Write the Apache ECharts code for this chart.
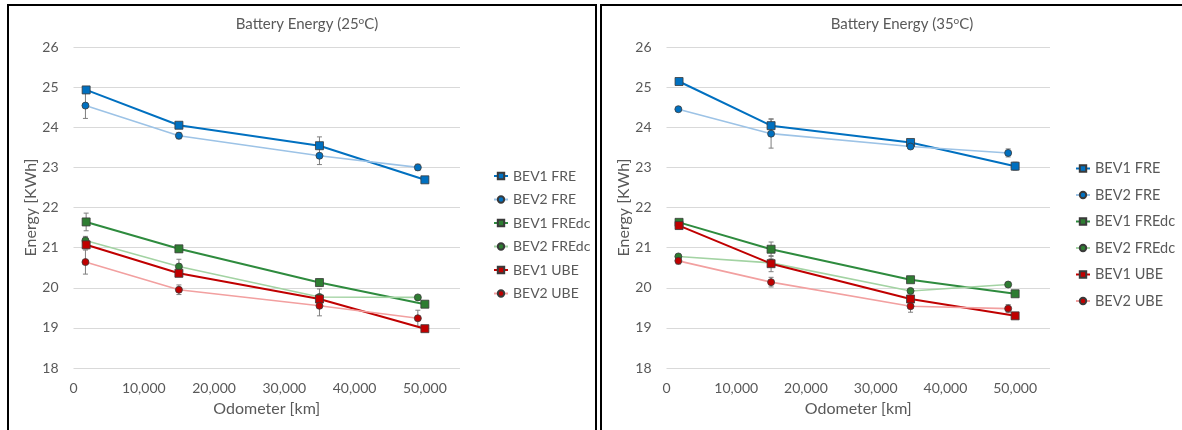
<!DOCTYPE html>
<html>
<head>
<meta charset="utf-8">
<script src="https://cdn.jsdelivr.net/npm/echarts@6/dist/echarts.min.js"></script>
<style>
html, body { margin: 0; padding: 0; background: #fff; }
#chart { width: 1182px; height: 430px; }
</style>
</head>
<body>
<div id="chart"></div>
<script>
// odometer readings [km]
var bev1Km = [1800, 15000, 35000, 50000];
var bev2Km = [1700, 15000, 35000, 49000];

var seriesNames = ['BEV1 FRE', 'BEV2 FRE', 'BEV1 FREdc', 'BEV2 FREdc', 'BEV1 UBE', 'BEV2 UBE'];

// 25 C
var fre1_25 = [24.93, 24.05, 23.54, 22.69];
var fre2_25 = [24.54, 23.79, 23.29, 23.00];
var fredc1_25 = [21.64, 20.97, 20.13, 19.59];
var fredc2_25 = [21.18, 20.53, 19.77, 19.76];
var ube1_25 = [21.07, 20.36, 19.72, 18.98];
var ube2_25 = [20.64, 19.95, 19.55, 19.24];
// error (+/-)
var fre1Err_25 = [0.07, 0.05, 0.22, 0.04];
var fre2Err_25 = [0.32, 0.08, 0.22, 0.08];
var fredc1Err_25 = [0.22, 0.08, 0.08, 0.04];
var fredc2Err_25 = [0.10, 0.18, 0.20, 0.05];
var ube1Err_25 = [0.10, 0.06, 0.10, 0.04];
var ube2Err_25 = [0.30, 0.12, 0.25, 0.20];

// 35 C
var fre1_35 = [25.14, 24.04, 23.62, 23.03];
var fre2_35 = [24.45, 23.84, 23.52, 23.36];
var fredc1_35 = [21.63, 20.96, 20.20, 19.85];
var fredc2_35 = [20.78, 20.62, 19.92, 20.08];
var ube1_35 = [21.55, 20.60, 19.72, 19.30];
var ube2_35 = [20.67, 20.14, 19.54, 19.48];
var fre1Err_35 = [0.05, 0.17, 0.05, 0.10];
var fre2Err_35 = [0.05, 0.36, 0.05, 0.10];
var fredc1Err_35 = [0.05, 0.18, 0.05, 0.04];
var fredc2Err_35 = [0.05, 0.10, 0.05, 0.05];
var ube1Err_35 = [0.08, 0.20, 0.08, 0.04];
var ube2Err_35 = [0.08, 0.12, 0.15, 0.10];

var yTicks = [18, 19, 20, 21, 22, 23, 24, 25, 26];

var lineColors = ['#0070C0', '#9DC3E6', '#2E8B3E', '#A3D3A3', '#C00000', '#F2A0A0'];
var markColors = ['#0070C0', '#0070C0', '#2E7D32', '#2E7D32', '#C00000', '#C00000'];
var symbols = ['rect', 'circle', 'rect', 'circle', 'rect', 'circle'];

var txt = '#595959';
var font = 'Lato, "Open Sans", sans-serif';

function pairs(xs, ys, es) {
    var out = [];
    for (var i = 0; i < xs.length; i++) {
        out.push([xs[i], ys[i], es ? es[i] : 0]);
    }
    return out;
}

function errSeries(idx, data) {
    return {
        type: 'custom',
        xAxisIndex: idx,
        yAxisIndex: idx,
        z: 1,
        silent: true,
        data: data,
        encode: { x: 0, y: 1 },
        renderItem: function (params, api) {
            var x = api.value(0), y = api.value(1), e = api.value(2);
            var top = api.coord([x, y + e]);
            var bot = api.coord([x, y - e]);
            var st = { stroke: '#7f7f7f', lineWidth: 1 };
            return {
                type: 'group',
                children: [
                    { type: 'line', shape: { x1: top[0], y1: top[1], x2: bot[0], y2: bot[1] }, style: st },
                    { type: 'line', shape: { x1: top[0] - 2.5, y1: top[1], x2: top[0] + 2.5, y2: top[1] }, style: st },
                    { type: 'line', shape: { x1: bot[0] - 2.5, y1: bot[1], x2: bot[0] + 2.5, y2: bot[1] }, style: st }
                ]
            };
        }
    };
}

function lineSeries(idx, k, xs, ys) {
    var bev1 = k % 2 === 0;
    return {
        name: seriesNames[k],
        type: 'line',
        xAxisIndex: idx,
        yAxisIndex: idx,
        z: 3,
        data: pairs(xs, ys),
        symbol: symbols[k],
        symbolSize: bev1 ? 8 : 7,
        lineStyle: { color: lineColors[k], width: bev1 ? 2 : 1.6 },
        itemStyle: { color: markColors[k], borderColor: '#3a3a3a', borderWidth: 0.8 },
        color: lineColors[k]
    };
}

var sets = [
    {
        vals: [fre1_25, fre2_25, fredc1_25, fredc2_25, ube1_25, ube2_25],
        errs: [fre1Err_25, fre2Err_25, fredc1Err_25, fredc2Err_25, ube1Err_25, ube2Err_25]
    },
    {
        vals: [fre1_35, fre2_35, fredc1_35, fredc2_35, ube1_35, ube2_35],
        errs: [fre1Err_35, fre2Err_35, fredc1Err_35, fredc2Err_35, ube1Err_35, ube2Err_35]
    }
];

var series = [];
sets.forEach(function (s, idx) {
    for (var k = 0; k < 6; k++) {
        var xs = k % 2 === 0 ? bev1Km : bev2Km;
        series.push(errSeries(idx, pairs(xs, s.vals[k], s.errs[k])));
    }
    for (var k2 = 0; k2 < 6; k2++) {
        var xs2 = k2 % 2 === 0 ? bev1Km : bev2Km;
        series.push(lineSeries(idx, k2, xs2, s.vals[k2]));
    }
});

function fmtKm(v) {
    return String(v).replace(/\B(?=(\d{3})+(?!\d))/g, ',');
}

function xAxis(idx) {
    return {
        type: 'value',
        gridIndex: idx,
        min: 0,
        max: 55000,
        interval: 10000,
        name: 'Odometer [km]',
        nameLocation: 'middle',
        nameGap: 33,
        nameTextStyle: { color: txt, fontSize: 16, fontFamily: font },
        axisLine: { show: false },
        axisTick: { show: false },
        splitLine: { show: false },
        axisLabel: { color: txt, fontSize: 14, fontFamily: font, margin: 13, showMaxLabel: false, formatter: fmtKm }
    };
}

function yAxis(idx) {
    return {
        type: 'value',
        gridIndex: idx,
        min: yTicks[0],
        max: yTicks[yTicks.length - 1],
        interval: 1,
        name: 'Energy [KWh]',
        nameLocation: 'middle',
        nameGap: 33,
        nameTextStyle: { color: txt, fontSize: 16, fontFamily: font },
        axisLine: { show: false },
        axisTick: { show: false },
        splitLine: { lineStyle: { color: '#D9D9D9', width: 1 } },
        axisLabel: { color: txt, fontSize: 14, fontFamily: font, margin: 15 }
    };
}

function legend(idx, left, top, gap, size) {
    return {
        data: seriesNames.map(function (n) { return { name: n }; }),
        orient: 'vertical',
        left: left,
        top: top,
        itemGap: gap,
        itemWidth: 14,
        itemHeight: 8,
        textStyle: { color: txt, fontSize: size, fontFamily: font },
        selectedMode: false
    };
}

function titleStyle() {
    return {
        color: txt, fontSize: 15, fontWeight: 'normal', fontFamily: font,
        rich: { s: { fontSize: 10, verticalAlign: 'top', padding: [0, 0, 6, 0], color: txt, fontFamily: font } }
    };
}

var chart = echarts.init(document.getElementById('chart'));
chart.setOption({
    backgroundColor: '#fff',
    animation: false,
    title: [
        { text: 'Battery Energy (25{s|o}C)', left: 302, top: 11, textAlign: 'center', textStyle: titleStyle() },
        { text: 'Battery Energy (35{s|o}C)', left: 897, top: 11, textAlign: 'center', textStyle: titleStyle() }
    ],
    legend: [legend(0, 488, 164, 9.5, 14), legend(1, 1070, 156, 11.5, 14.5)],
    grid: [
        { left: 73.5, right: 1182 - 460, top: 47, bottom: 430 - 368 },
        { left: 666.5, right: 1182 - 1050, top: 47, bottom: 430 - 368 }
    ],
    xAxis: [xAxis(0), xAxis(1)],
    yAxis: [yAxis(0), yAxis(1)],
    graphic: [
        { type: 'rect', shape: { x: 8, y: 5, width: 588, height: 440 }, style: { fill: 'none', stroke: '#000', lineWidth: 2 }, z: 100 },
        { type: 'rect', shape: { x: 601, y: 5, width: 600, height: 440 }, style: { fill: 'none', stroke: '#000', lineWidth: 2 }, z: 100 }
    ],
    series: series
});
</script>
</body>
</html>
